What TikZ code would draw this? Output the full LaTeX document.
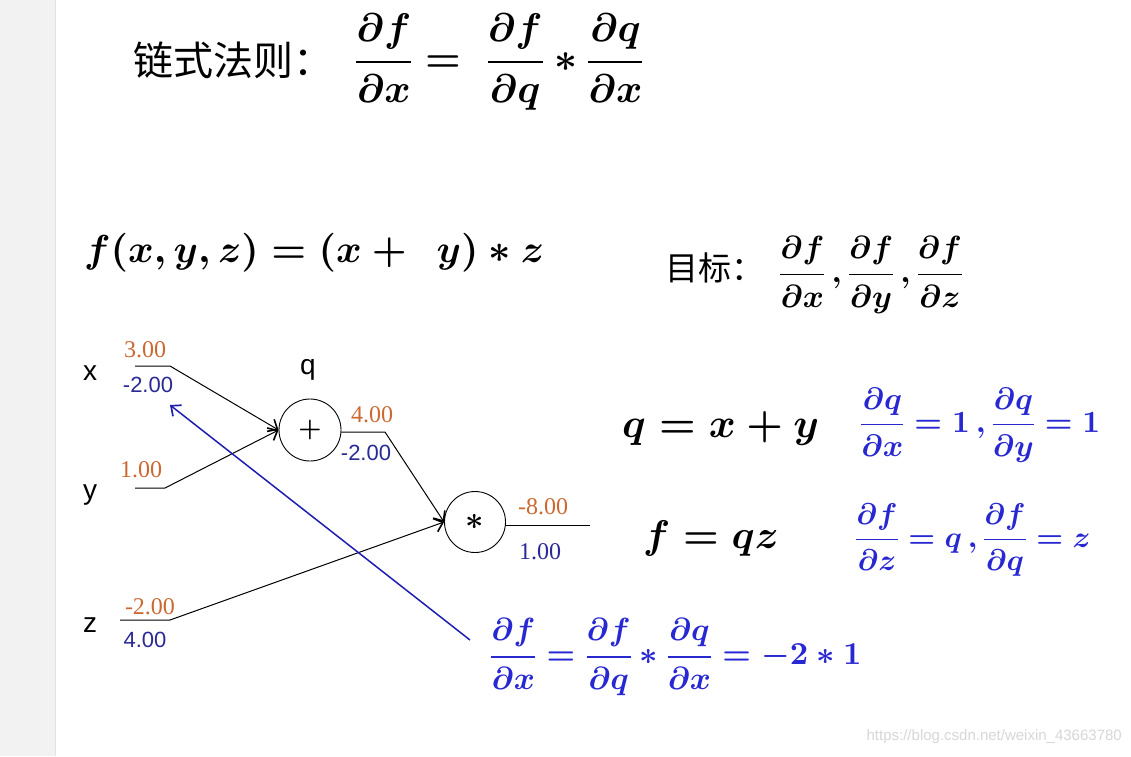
\documentclass[tikz,border=0pt]{standalone}
\usepackage{amsmath}
\usepackage{fontspec}
\DeclareFontShape{OML}{cmm}{m}{it}{<->cmmi10}{}
\DeclareFontShape{OML}{cmm}{b}{it}{<->cmmib10}{}
\DeclareFontShape{OMS}{cmsy}{m}{n}{<->cmsy10}{}
\DeclareFontShape{OMS}{cmsy}{b}{n}{<->cmbsy10}{}
\DeclareFontShape{OMX}{cmex}{m}{n}{<->cmex10}{}
\DeclareFontShape{OT1}{cmr}{m}{n}{<->cmr10}{}
\DeclareFontShape{OT1}{cmr}{bx}{n}{<->cmbx10}{}
\newfontfamily\cjk{Noto Sans CJK SC}
\setsansfont{Liberation Sans}
\newfontfamily\numserif{Liberation Serif}
\usetikzlibrary{arrows.meta}
\definecolor{strip}{RGB}{242,242,242}
\definecolor{stripline}{RGB}{226,226,226}
\definecolor{fwd}{RGB}{204,104,50}
\definecolor{bwd}{RGB}{42,42,150}
\definecolor{mblue}{RGB}{40,40,210}
\definecolor{ablue}{RGB}{30,30,175}
\definecolor{wm}{RGB}{215,215,215}
\tikzset{
  opnode/.style={draw, circle, minimum size=62pt, inner sep=0pt, line width=0.9pt, font=\fontsize{26}{30}\selectfont},
  varlabel/.style={font=\sffamily\fontsize{28}{32}\selectfont},
  fval/.style={text=fwd, font=\numserif\fontsize{24}{28}\selectfont, inner sep=0pt},
  bvals/.style={text=bwd, font=\sffamily\fontsize{22}{26}\selectfont, inner sep=0pt},
  bvalr/.style={text=bwd, font=\numserif\fontsize{24}{28}\selectfont, inner sep=0pt},
  wire/.style={line width=1pt, black},
  fwdarrow/.style={wire, -{Straight Barb[length=8pt,width=14pt,line width=1.6pt]}},
  backarrow/.style={line width=1.5pt, ablue, -{Straight Barb[length=8pt,width=14pt,line width=1.7pt]}},
  bigmath/.style={anchor=west, inner sep=0pt, font=\fontsize{40}{48}\selectfont},
  midmath/.style={anchor=west, inner sep=0pt, font=\fontsize{39}{46}\selectfont},
  smallmath/.style={anchor=west, inner sep=0pt, font=\fontsize{31}{38}\selectfont},
  cjktext/.style={anchor=west, inner sep=0pt, font=\cjk\fontsize{40}{46}\selectfont},
}
\begin{document}
\boldmath
\begin{tikzpicture}[x=1pt,y=-1pt]
\useasboundingbox (0,0) rectangle (1131,756);
\fill[white] (0,0) rectangle (1131,756);
\fill[strip] (0,0) rectangle (55,756);
\draw[stripline, line width=1pt] (55,0) -- (55,756);

% top: chain rule
\node[cjktext] (chain) at (133,60) {链式法则：};
\node[bigmath] (chaineq) at (355,62) {$\displaystyle\frac{\partial f}{\partial x} =\mkern5mu \frac{\partial f}{\partial q} * \frac{\partial q}{\partial x}$};

% function
\node[midmath] (func) at (84,253) {$f(x,y,z) = (x+\mkern8mu y) * z$};

% goal
\node[cjktext, font=\cjk\fontsize{33}{38}\selectfont] (goal) at (665,268) {目标：};
\node[smallmath, font=\fontsize{32}{38}\selectfont] (goaleq) at (779,275) {$\displaystyle\frac{\partial f}{\partial x}\mkern3mu,\frac{\partial f}{\partial y}\mkern3mu,\frac{\partial f}{\partial z}$};

% graph
\node[varlabel] (lx) at (90,373) {x};
\node[varlabel] (ly) at (90,495) {y};
\node[varlabel] (lz) at (90,625) {z};

\node[opnode] (plus) at (310,430) {$+$};
\node[varlabel] (lq) at (308,370) {q};
\node[opnode, minimum size=61pt, font=\fontsize{32}{36}\selectfont] (mul) at (475,522) {$*$};

\coordinate (xs) at (135,366);
\coordinate (xk) at (170,366);
\coordinate (ys) at (135,488);
\coordinate (yk) at (165,488);
\coordinate (zs) at (120,620);
\coordinate (zk) at (170,620);
\coordinate (qk) at (385,432);
\coordinate (fo) at (590,525);

\draw[fwdarrow] (xs) -- (xk) -- (plus.west);
\draw[fwdarrow] (ys) -- (yk) -- (plus.west);
\draw[fwdarrow] (plus.east |- qk) -- (qk) -- (mul.west);
\draw[fwdarrow] (zs) -- (zk) -- (mul.west);
\draw[wire] (mul.east |- fo) -- (fo);

\node[fval] (vx) at (145,350) {3.00};
\node[bvals] (gx) at (148,385) {-2.00};
\node[fval] (vy) at (141,470) {1.00};
\node[fval] (vz) at (150,607) {-2.00};
\node[bvals] (gz) at (145,640) {4.00};
\node[fval] (vq) at (372,415) {4.00};
\node[bvals] (gq) at (366,453) {-2.00};
\node[fval] (vf) at (543,507) {-8.00};
\node[bvalr] (gf) at (540,552) {1.00};

% backprop arrow
\coordinate (bstart) at (470,640);
\coordinate (bend) at (170,405);
\draw[backarrow] (bstart) -- (bend);

% local gradients
\node[midmath, font=\fontsize{41}{48}\selectfont] (qeq) at (622,428) {$q = x + y$};
\node[smallmath, text=mblue] (qgrad) at (860,425) {$\displaystyle\frac{\partial q}{\partial x} = 1\mkern3mu,\frac{\partial q}{\partial y} = 1$};
\node[midmath, font=\fontsize{40}{48}\selectfont] (feq) at (643,538) {$f = qz$};
\node[smallmath, text=mblue, font=\fontsize{30}{36}\selectfont] (fgrad) at (855,540) {$\displaystyle\frac{\partial f}{\partial z} = q\mkern3mu,\frac{\partial f}{\partial q} = z$};
\node[smallmath, text=mblue, font=\fontsize{32}{38}\selectfont] (xgrad) at (490,657) {$\displaystyle\frac{\partial f}{\partial x} = \frac{\partial f}{\partial q} * \frac{\partial q}{\partial x} = -2 * 1$};

% watermark
\node[anchor=east, text=wm, font=\sffamily\fontsize{15}{18}\selectfont, inner sep=0pt] (wmark) at (1122,737) {https://blog.csdn.net/weixin\_43663780};
\end{tikzpicture}
\end{document}
